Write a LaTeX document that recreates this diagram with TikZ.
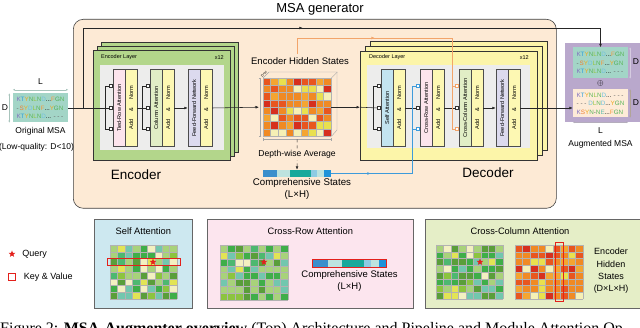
\documentclass[tikz,border=0pt]{standalone}
\usepackage{fontspec}
\setmainfont{Liberation Sans}
\newfontfamily\capserif{Liberation Serif}
\usetikzlibrary{arrows.meta,positioning,shapes.geometric,calc,decorations.markings}

\definecolor{genfill}{HTML}{FDEAD5}
\definecolor{encgreen}{HTML}{B3D68B}
\definecolor{decyellow}{HTML}{FCF5A9}
\definecolor{panelgray}{HTML}{EDEDEC}
\definecolor{tiedpink}{HTML}{FCE4EC}
\definecolor{colgreen}{HTML}{E1EEC6}
\definecolor{ffnlav}{HTML}{DCDAEE}
\definecolor{selfblue}{HTML}{C3E4F0}
\definecolor{normyel}{HTML}{FDF8B3}
\definecolor{msateal}{HTML}{A3D5C7}
\definecolor{msapeach}{HTML}{FDEBD8}
\definecolor{augpurple}{HTML}{B9A8CC}
\definecolor{kvorange}{HTML}{F2A46A}
\definecolor{kvblue}{HTML}{3D9BDB}
\definecolor{keyred}{HTML}{E3201B}
\definecolor{sapanel}{HTML}{CDE8F0}
\definecolor{crpanel}{HTML}{FCE5EE}
\definecolor{ccpanel}{HTML}{E5EEC7}
% residues
\definecolor{resK}{HTML}{8070BE}
\definecolor{resT}{HTML}{2F9FD8}
\definecolor{resY}{HTML}{EFA81A}
\definecolor{resN}{HTML}{5DB85C}
\definecolor{resL}{HTML}{96C640}
\definecolor{resD}{HTML}{6FC1DD}
\definecolor{resS}{HTML}{EE7F30}
\definecolor{resF}{HTML}{F39A3E}
\definecolor{resG}{HTML}{4FAE55}
\definecolor{resE}{HTML}{5FBFAE}
% tiles
\definecolor{gr1}{HTML}{8CC43F}
\definecolor{gr2}{HTML}{3FAE49}
\definecolor{gr3}{HTML}{5A9E3A}
\definecolor{gr4}{HTML}{A8D27A}
\definecolor{gr5}{HTML}{E2E455}
\definecolor{gr6}{HTML}{F3F0C1}
\definecolor{gr7}{HTML}{72C7AE}
\definecolor{gr8}{HTML}{4DB870}
\definecolor{hs1}{HTML}{D62F1E}
\definecolor{hs2}{HTML}{E8561F}
\definecolor{hs3}{HTML}{F08A24}
\definecolor{hs4}{HTML}{F4A531}
\definecolor{hs5}{HTML}{E9E04E}
\definecolor{hs6}{HTML}{F6F0B5}
\definecolor{cs1}{HTML}{3A8FCC}
\definecolor{cs2}{HTML}{BDE3DF}
\definecolor{cs3}{HTML}{17A99B}
\definecolor{cs4}{HTML}{8DCBE3}
\definecolor{cs5}{HTML}{1E93DA}

\newcommand{\res}[1]{\textcolor{res#1}{#1}}
\newcommand{\gapres}[1]{\textcolor{black!60}{#1}}
\newcommand{\vtext}[1]{\rotatebox{90}{#1}}
\newcommand{\addnorm}{\rotatebox{90}{Add\hspace{8pt}\&\hspace{8pt}Norm}}
\newcommand{\greenpal}{\def\tilepal{{"gr1","gr2","gr3","gr4","gr5","gr6","gr7","gr8","gr2","gr4","gr7","gr3"}}}
\newcommand{\heatpal}{\def\tilepal{{"hs1","hs2","hs3","hs3","hs3","hs4","hs4","hs5","hs6","hs2"}}}
% x0, y0, cols, rows, cell w, cell h, last palette index
\newcommand{\tilegrid}[7]{%
  \foreach \tcol in {1,...,#3}{
    \foreach \trow in {1,...,#4}{
      \pgfmathrandominteger{\pick}{0}{#7}
      \pgfmathparse{\tilepal[\pick]}\let\tint\pgfmathresult
      \fill[\tint] ({#1+(\tcol-1)*#5},{#2+(\trow-1)*#6}) rectangle ++(#5,#6);
    }
  }
  \foreach \trow in {0,...,#4} \draw[tileline] (#1,{#2+\trow*#6}) -- ++({#3*#5},0);
  \foreach \tcol in {0,...,#3} \draw[tileline] ({#1+\tcol*#5},#2) -- ++(0,{#4*#6});
}
% x0, y0, segment w, h
\newcommand{\statebar}[4]{%
  \foreach \cc [count=\n from 0] in {cs1,cs1,cs2,cs2,cs3,cs3,cs3,cs4,cs2,cs5}
    \fill[\cc] ({#1+\n*#3},#2) rectangle ++(#3,#4);
}
% name, x, colour of k and v ports
\newcommand{\qkvports}[3]{%
  \node[port, draw=#3] (#1k) at (#2,86) {};
  \node[port] (#1q) at (#2,108) {};
  \node[port, draw=#3] (#1v) at (#2,129) {};
}

\begin{document}
\begin{tikzpicture}[x=1pt, y=-1pt, >={Latex[length=3.5pt,width=2.8pt]}, font=\fontsize{8.5}{10}\selectfont]
  \tikzset{genbox/.style={draw=black!75, fill=genfill, rounded corners=10pt, line width=0.6pt, inner sep=0pt},
    layerbox/.style={draw=black!80, line width=0.6pt, inner sep=0pt},
    layertag/.style={font=\fontsize{5.5}{6}\selectfont, inner sep=0pt},
    attn/.style={draw=black!70, line width=0.4pt, minimum width=12pt, minimum height=77pt, inner sep=0pt, font=\fontsize{5.6}{6}\selectfont},
    addnorm/.style={attn, fill=normyel},
    port/.style={draw=black!80, fill=white, minimum size=2.8pt, inner sep=0pt, line width=0.4pt},
    flow/.style={draw=black!85, line width=0.55pt},
    kvline/.style={line width=0.7pt},
    midarrow/.style={postaction={decorate}, decoration={markings, mark=at position #1 with {\arrow{Latex[length=3.5pt,width=2.8pt]}}}},
    cubeedge/.style={draw=black!35, line width=0.4pt},
    tileline/.style={draw=black!30, line width=0.2pt},
    seqbox/.style={minimum width=55pt, inner sep=0pt, align=left, font=\fontsize{6.3}{8.4}\selectfont},
    dimarrow/.style={{Latex[length=2pt,width=2pt]}-{Latex[length=2pt,width=2pt]}, line width=0.4pt},
    attpanel/.style={draw=black!60, line width=0.6pt, anchor=north west, minimum height=89pt, inner sep=0pt},
    paneltitle/.style={font=\fontsize{9.3}{10}\selectfont},
    querystar/.style={star, star points=5, star point ratio=2.3, fill=keyred, minimum size=7pt, inner sep=0pt},
    keybox/.style={draw=keyred, line width=1pt}}
  \useasboundingbox (0,0) rectangle (640,328);
  \clip (0,0) rectangle (640,328);
  \fill[white] (0,0) rectangle (640,328);

  % generator frame
  \node[genbox, anchor=north west, minimum width=483pt, minimum height=189pt] (gen) at (73,19) {};
  \node[font=\fontsize{13}{15}\selectfont] (title) at (320,9) {MSA generator};

  % encoder stack
  \foreach \off in {8,4} \draw[layerbox, fill=encgreen] (93+\off,50-\off) rectangle (230+\off,160-\off);
  \node[layerbox, fill=encgreen, anchor=north west, minimum width=137pt, minimum height=110pt] (enc) at (93,50) {};
  \fill[panelgray] (100,65) rectangle (224,150);
  \node[layertag, anchor=west] at (101,57.5) {Encoder Layer};
  \node[layertag, anchor=east] at (224,57.5) {x12};
  \node[attn, fill=tiedpink] (e1a) at (119,108) {\vtext{Tied-Row Attention}};
  \node[addnorm] (e1n) at (131,108) {\addnorm};
  \node[attn, fill=colgreen] (e2a) at (156,108) {\vtext{Column Attention}};
  \node[addnorm] (e2n) at (168,108) {\addnorm};
  \node[attn, fill=ffnlav] (e3a) at (194,108) {\vtext{Feed-Forward Network}};
  \node[addnorm] (e3n) at (206,108) {\addnorm};
  \qkvports{e1}{111}{black!80}
  \qkvports{e2}{148}{black!80}
  \node[font=\fontsize{13.5}{15}\selectfont] (enclbl) at (136,175) {Encoder};

  % decoder stack
  \foreach \off in {10,5} \draw[layerbox, fill=decyellow] (360+\off,51-\off) rectangle (537+\off,160-\off);
  \node[layerbox, fill=decyellow, anchor=north west, minimum width=177pt, minimum height=109pt] (dec) at (360,51) {};
  \fill[panelgray] (367,65) rectangle (530,148);
  \node[layertag, anchor=west] at (369,57.5) {Decoder Layer};
  \node[layertag, anchor=east] at (529,57.5) {x12};
  \node[attn, fill=selfblue] (d1a) at (387,108) {\vtext{Self Attention}};
  \node[addnorm] (d1n) at (399,108) {\addnorm};
  \node[attn, fill=tiedpink] (d2a) at (426,108) {\vtext{Cross-Row Attention}};
  \node[addnorm] (d2n) at (438,108) {\addnorm};
  \node[attn, fill=colgreen] (d3a) at (465,108) {\vtext{Cross-Column Attention}};
  \node[addnorm] (d3n) at (477,108) {\addnorm};
  \node[attn, fill=ffnlav] (d4a) at (502,108) {\vtext{Feed-Forward Network}};
  \node[addnorm] (d4n) at (514,108) {\addnorm};
  \qkvports{d1}{379}{black!80}
  \qkvports{d2}{417.5}{kvblue}
  \qkvports{d3}{456.5}{kvorange}
  \node[font=\fontsize{13.5}{15}\selectfont] (declbl) at (488,173) {Decoder};

  % encoder hidden states
  \node[font=\fontsize{9.5}{11}\selectfont] (hslbl) at (300,61) {Encoder Hidden States};
  \node[anchor=north west, minimum width=68pt, minimum height=58pt, inner sep=0pt] (hs) at (263,78) {};
  \pgfmathsetseed{11}\heatpal
  \tilegrid{263}{78}{9}{8}{7.5556}{7.25}{9}
  \draw[cubeedge] (hs.north west) -- ++(6,-6) -- ++(68,0) -- ++(0,58) -- (hs.south east);
  \draw[cubeedge] (hs.north east) -- ++(6,-6);
  \node[font=\fontsize{3.5}{4}\selectfont, rotate=45, inner sep=0pt] at (264,74) {D×H};
  \draw[cubeedge, {Bar[width=2.5pt]}-{Bar[width=2.5pt]}] ([xshift=-3pt]hs.north west) -- ([xshift=-3pt]hs.south west);
  \draw[cubeedge, {Bar[width=2.5pt]}-{Bar[width=2.5pt]}] ([yshift=-3pt]hs.south west) -- ([yshift=-3pt]hs.south east);

  % comprehensive states
  \node[minimum width=68pt, minimum height=7pt, inner sep=0pt] (cs) at (297,173.5) {};
  \statebar{263}{170}{6.8}{7}
  \draw[flow, dashed, ->] ([yshift=-3pt]hs.south) -- node[fill=genfill, inner sep=1pt, font=\fontsize{8.6}{10}\selectfont] {Depth-wise Average} (cs.north);
  \node[below=1.5pt of cs, xshift=5pt, font=\fontsize{9.7}{11}\selectfont, inner sep=0pt] (cslbl) {Comprehensive States};
  \node[below=2.5pt of cslbl, xshift=-5pt, font=\fontsize{9.7}{11}\selectfont, inner sep=0pt] (csdim) {(L×H)};

  % original MSA
  \node[seqbox, fill=msateal, minimum height=29pt] (omsa) at (40.5,108) {\res K\res T\res Y\res N\res L\res N\res D...\res F\res G\res N\\ \gapres{-}\,\res S\res Y\res D\res L\res N\res F...\res Y\res G\res N\\ \res K\res T\res Y\res N\res L\res N\res D... \gapres{- - -}};
  \draw[dimarrow, msateal!80!black!70] ([yshift=3.5pt]omsa.north west) -- ([yshift=3.5pt]omsa.north east);
  \draw[dimarrow, msateal!80!black!70] ([xshift=-3.5pt]omsa.north west) -- ([xshift=-3.5pt]omsa.south west);
  \node[above=5pt of omsa] (omsaL) {L};
  \node (omsaD) at (5,108) {D};
  \node[below=1.5pt of omsa] (omsalbl) {Original MSA};
  \node[below=0.5pt of omsalbl, xshift=-4pt] (omsaq) {(Low-quality: D<10)};

  % augmented MSA
  \node[fill=augpurple, anchor=north west, minimum width=80pt, minimum height=79pt, inner sep=0pt] (aug) at (565,43) {};
  \node[seqbox, fill=msateal, minimum height=31pt] (augu) at (600.5,63) {\res K\res T\res Y\res N\res L\res N\res D...\res F\res G\res N\\ \gapres{-}\,\res S\res Y\res D\res L\res N\res F...\res Y\res G\res N\\ \res K\res T\res Y\res N\res L\res N\res D... \gapres{- - -}};
  \node[seqbox, fill=msapeach, minimum height=28pt] (augl) at (600.5,103.5) {\res K\res T\res Y\res N\res L\res N\res D... \gapres{- - -}\\ \gapres{- - -} \res D\res L\res N\res D...\res Y\res G\res N\\ \res K\res S\res Y\res N\gapres{-}\res N\res E...\res F\res G\res N};
  \node[font=\fontsize{8}{9}\selectfont] (oplus) at (600.5,84) {$\oplus$};
  \draw[dimarrow, augpurple!60!white] ([xshift=2pt]augu.north east) -- ([xshift=2pt]augu.south east);
  \draw[dimarrow, msapeach!70!black] ([xshift=2pt]augl.north east) -- ([xshift=2pt]augl.south east);
  \node (augDu) at (636,62) {D};
  \node (augDl) at (636,103) {D};
  \draw[dimarrow, augpurple!70!black!60] ([yshift=-4.5pt]augl.south west) -- ([yshift=-4.5pt]augl.south east);
  \node[below=6pt of augl] (augL) {L};
  \node[below=0pt of augL] (auglbl) {Augmented MSA};

  % main flow
  \coordinate (split) at (83,108);
  \coordinate (topleft) at (83,28);
  \draw[flow] (omsa.east) -- (e1q.west);
  \draw[flow, ->, midarrow=0.486] (split) -- (topleft) -| (augu.north);
  \draw[flow] (e1k.west) -- ++(-4,0) |- (e1v.west);
  \draw[flow] (e1n.east) -- (e2q.west);
  \draw[flow] (e2k.west) -- ++(-4,0) |- (e2v.west);
  \draw[flow, ->] (e2n.east) -- (e3a.west);
  \draw[flow, ->] (e3n.east) -- ([xshift=-4pt]hs.west);
  \draw[flow, ->] (hs.east) -- (dec.west |- hs.east);
  \draw[flow] (dec.west |- hs.east) -- (d1q.west);
  \draw[flow] (d1k.west) -- ++(-4,0) |- (d1v.west);
  \draw[flow] (d1n.east) -- (d2q.west);
  \draw[flow] (d2n.east) -- (d3q.west);
  \draw[flow, ->] (d3n.east) -- (d4a.west);
  \draw[flow, ->] (d4n.east) -- (d4n.east -| augl.west);

  % key / value feeds
  \coordinate (bluetop) at (412.5,86);
  \draw[kvline, kvblue, midarrow=0.23] (cs.east) -| (bluetop) -- (d2k.west);
  \draw[kvline, kvblue] (d2v.west -| bluetop) -- (d2v.west);
  \coordinate (orangetop) at (452,38);
  \draw[kvline, kvorange, midarrow=0.354] (hslbl.north -| hs.north) |- (orangetop) -- (d3v.west -| orangetop) -- (d3v.west);
  \draw[kvline, kvorange] (d3k.west -| orangetop) -- (d3k.west);

  % legend
  \node[querystar] (qstar) at (12,254) {};
  \node[right=4.5pt of qstar, font=\fontsize{9}{10}\selectfont] (qlbl) {Query};
  \node[keybox, minimum size=6.5pt, inner sep=0pt] (kvsq) at (12,277) {};
  \node[right=4.5pt of kvsq, font=\fontsize{9}{10}\selectfont] (kvlbl) {Key \& Value};

  % self attention panel
  \node[attpanel, fill=sapanel, minimum width=98pt] (psa) at (94,219) {};
  \node[paneltitle] at ([yshift=-12pt]psa.north) {Self Attention};
  \pgfmathsetseed{3}\greenpal
  \tilegrid{110}{245}{9}{8}{7.444}{6.75}{11}
  \draw[keybox] (107,258.5) rectangle (180,266);
  \node[querystar] at (153,262) {};

  % cross-row attention panel
  \node[attpanel, fill=crpanel, minimum width=206pt] (pcr) at (207,219) {};
  \node[paneltitle] at ([yshift=-12pt]pcr.north) {Cross-Row Attention};
  \pgfmathsetseed{5}\greenpal
  \tilegrid{220}{245}{9}{8}{7.556}{6.875}{11}
  \node[querystar] at (264,262) {};
  \node[minimum width=73pt, minimum height=7pt, inner sep=0pt] (crbar) at (349.5,263.5) {};
  \statebar{313}{260}{7.3}{7}
  \draw[keybox] (crbar.north west) rectangle (crbar.south east);
  \node[below=3pt of crbar, font=\fontsize{9.5}{11}\selectfont, inner sep=0pt] (crlbl) {Comprehensive States};
  \node[below=2.5pt of crlbl, font=\fontsize{9.5}{11}\selectfont, inner sep=0pt] {(L×H)};

  % cross-column attention panel
  \node[attpanel, fill=ccpanel, minimum width=220pt] (pcc) at (425,219) {};
  \node[paneltitle] at (520,231) {Cross-Column Attention};
  \pgfmathsetseed{9}\greenpal
  \tilegrid{436}{245}{9}{8}{7.444}{6.75}{11}
  \node[querystar] at (480,262) {};
  \pgfmathsetseed{21}\heatpal
  \tilegrid{515}{245}{9}{8}{7.556}{6.75}{9}
  \draw[keybox] (555,243) rectangle (563,302);
  \node[align=center, font=\fontsize{9}{12.3}\selectfont] (cchs) at (611,271) {Encoder\\Hidden\\States\\(D×L×H)};

  % caption
  \node[anchor=base west, inner sep=0pt, font=\capserif\fontsize{16}{18}\selectfont] (cap) at (0,334) {Figure 2: \textbf{MSA-Augmenter overview} (Top) Architecture and Pipeline and Module Attention Op};
\end{tikzpicture}
\end{document}
